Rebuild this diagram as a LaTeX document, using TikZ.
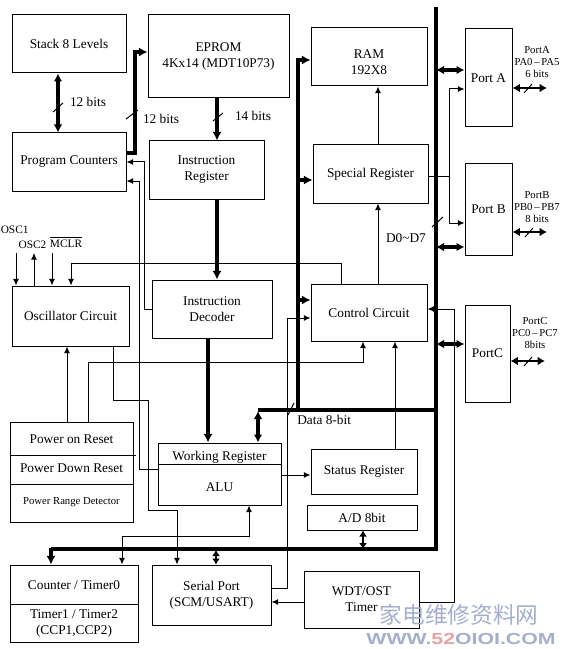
\documentclass[tikz,border=0pt]{standalone}
\usepackage{fontspec}
\setmainfont{Liberation Serif}
\newfontfamily\cjkfont{Noto Sans CJK SC}
\newfontfamily\wmfont{Liberation Sans}
\usetikzlibrary{arrows.meta,calc}
\definecolor{wmblue}{RGB}{165,175,205}
\definecolor{wmred}{RGB}{232,160,160}
\begin{document}
\begin{tikzpicture}[x=0.75pt,y=-0.75pt,
  bx/.style 2 args={draw,line width=0.75pt,minimum width=#1*0.75pt,minimum height=#2*0.75pt,inner sep=0pt,align=center,font=\fontsize{10}{12}\selectfont},
  ln/.style={line width=0.75pt},
  arr/.style={ln,-{Latex[length=5pt,width=4.5pt]}},
  darr/.style={ln,{Latex[length=5pt,width=4.5pt]}-{Latex[length=5pt,width=4.5pt]}},
  bus/.style={line width=3pt},
  tarr/.style={line width=3pt,-{Latex[length=6.5pt,width=7pt]}},
  tdarr/.style={line width=2.5pt,{Latex[length=6pt,width=6.5pt]}-{Latex[length=6pt,width=6.5pt]}},
  shortarr/.style={line width=2pt,{Latex[length=4.5pt,width=6pt]}-{Latex[length=4.5pt,width=6pt]}},
  sdarr/.style={line width=2pt,{Latex[length=5.5pt,width=6.5pt]}-{Latex[length=5.5pt,width=6.5pt]}},
  lbl/.style={font=\fontsize{10}{12}\selectfont,inner sep=0pt,align=center},
  slbl/.style={font=\fontsize{8}{9}\selectfont,inner sep=0pt,align=center},
  olbl/.style={font=\fontsize{8.5}{10}\selectfont,inner sep=0pt},
]
\useasboundingbox (0,0) rectangle (563,649);

% ---------- boxes ----------
\node[bx={114}{58}] (stack) at (69,44) {Stack 8 Levels};
\node[bx={141}{83}] (eprom) at (218.5,56.5) {EPROM\\4Kx14 (MDT10P73)};
\node[bx={114}{58}] (pc) at (69,162) {Program Counters};
\node[bx={115}{58}] (ir) at (206.5,170) {Instruction\\Register};
\node[bx={116}{58}] (ram) at (369,57) {};
\node[lbl] (ramtext) at (369,62) {RAM\\192X8};
\node[bx={115}{58}] (sr) at (370.5,174) {Special Register};
\node[bx={47}{98}] (porta) at (488.5,78) {Port A};
\node[bx={47}{91}] (portb) at (488.5,209.5) {Port B};
\node[bx={45}{97}] (portc) at (487.5,353.5) {PortC};
\node[bx={117}{60}] (osc) at (70.5,316) {Oscillator Circuit};
\node[bx={120}{58}] (id) at (212,309) {Instruction\\Decoder};
\node[bx={116}{57}] (cc) at (369,312.5) {Control Circuit};
\node[bx={123}{100}] (por) at (71.5,472) {};
\node[bx={123}{62}] (wr) at (219.5,474) {};
\node[bx={106}{45}] (status) at (364,471.5) {Status Register};
\node[bx={110}{25}] (ad) at (362,517.5) {A/D 8bit};
\node[bx={128}{77}] (ct) at (74,603.5) {};
\node[bx={119}{60}] (sp) at (211.5,595) {Serial Port\\(SCM/USART)};
\node[bx={115}{57}] (wdt) at (361.5,599.5) {WDT/OST\\Timer};

% multi-part box contents
\draw[ln] (por.west |- 0,455) -- (136,455);
\draw[ln] (por.west |- 0,484) -- (por.east |- 0,484);
\node[lbl] (por1) at (71.5,439) {Power on Reset};
\node[lbl] (por2) at (71.5,468.5) {Power Down Reset};
\node[slbl] (por3) at (71.5,502) {Power Range Detector};
\draw[ln] (wr.west |- 0,464) -- (wr.east |- 0,464);
\node[lbl] (wrt) at (219.5,457) {Working Register};
\node[lbl] (alut) at (219.5,487) {ALU};
\draw[ln] (ct.west |- 0,604) -- (ct.east |- 0,604);
\node[lbl] (ct1) at (74,585) {Counter / Timer0};
\node[lbl] (ct2) at (74,623) {Timer1 / Timer2\\(CCP1,CCP2)};

% ---------- buses ----------
\coordinate (bustop) at (436,7);
\draw[bus] (bustop) -- (436,549) -- (51,549);
\draw[tarr] (51,547.5) -- (ct.north -| 51,0);
\draw[bus] (436,410) -- (258,410);
\draw[tdarr] (258,411) -- (wr.north -| 258,0);
\draw[tarr] (298,410) -- (298,60) -- (ram.west |- 0,60);
\draw[tarr] (298,180) -- (sr.west |- 0,180);
\draw[tarr] (298,300) -- (cc.west |- 0,300);
\draw[ln] (288,415) -- (294,403);
\node[lbl,anchor=west] (datalbl) at (297,420) {Data 8-bit};
\draw[ln] (432,227) -- (443,217);
\node[lbl] (dlbl) at (406,238) {D0\textasciitilde D7};

\draw[tdarr] (436,70) -- (porta.west |- 0,70);
\draw[tdarr] (436,247) -- (portb.west |- 0,247);
\draw[tdarr] (436,344) -- (portc.west |- 0,344);
\draw[shortarr] (216,550) -- (sp.north -| 216,0);
\draw[shortarr] (363,549) -- (ad.south -| 363,0);

% ---------- external port lines ----------
\coordinate (pa) at (547,88);
\coordinate (pb) at (547,232);
\coordinate (pcx) at (545,361);
\draw[sdarr] (porta.east |- pa) -- (pa);
\draw[sdarr] (portb.east |- pb) -- (pb);
\draw[sdarr] (portc.east |- pcx) -- (pcx);
\draw[ln] (524,93) -- (532,84);
\draw[ln] (525,237) -- (533,228);
\draw[ln] (524,366) -- (532,357);
\node[slbl] (palbl) at (537,62) {PortA\\PA0\,–\,PA5\\6 bits};
\node[slbl] (pblbl) at (537,207) {PortB\\PB0\,–\,PB7\\8 bits};
\node[slbl] (pclbl) at (535,333) {PortC\\PC0\,–\,PC7\\8bits};

% ---------- top left ----------
\draw[tdarr] (stack.south -| 58,0) -- (pc.north -| 58,0);
\draw[ln] (53,112) -- (63,103);
\node[lbl] (b12a) at (88,102) {12 bits};
\draw[tarr] (pc.east |- 0,153) -- (135,153) -- (135,52) -- (eprom.west |- 0,52);
\draw[ln] (126,119) -- (138,110);
\node[lbl] (b12b) at (161,119) {12 bits};
\draw[tarr] (eprom.south -| 217,0) -- (ir.north -| 217,0);
\draw[ln] (213,121) -- (223,113);
\node[lbl] (b14) at (253,116) {14 bits};
\draw[tarr] (ir.south -| 217,0) -- (id.north -| 217,0);
\draw[tarr] (id.south -| 208,0) -- (wr.north -| 208,0);

% ID -> PC, ALU -> PC
\draw[arr] (id.west |- 0,309) -- (144,309) -- (144,162) -- (pc.east |- 0,162);
\draw[arr] (wr.west |- 0,469) -- (139,469) -- (139,181) -- (pc.east |- 0,181);

% RAM / special register / control
\draw[arr] (sr.north -| 378,0) -- (ram.south -| 378,0);
\draw[arr] (cc.north -| 378,0) -- (sr.south -| 378,0);
\draw[ln] (sr.east |- 0,176) -- (449,176);
\draw[arr] (449,176) |- (porta.west |- 0,89);
\draw[arr] (449,176) |- (portb.west |- 0,223);

% oscillator pins
\coordinate (osc1) at (16,253);
\coordinate (osc2) at (34,253);
\coordinate (mclr) at (52,253);
\draw[arr] (osc1) -- (osc.north -| osc1);
\draw[arr] (osc.north -| osc2) -- (osc2);
\draw[arr] (mclr) -- (osc.north -| mclr);
\node[olbl,anchor=west] (osc1t) at (0.5,230) {OSC1};
\node[olbl] (osc2t) at (32.5,245) {OSC2};
\node[olbl] (mclrt) at (66,242) {$\overline{\mbox{MCLR}}$};

% control -> oscillator
\draw[arr] (cc.north -| 341,0) -- (341,263) -- (71,263) -- (osc.north -| 71,0);
% power on reset -> oscillator, control
\draw[arr] (por.north -| 67,0) -- (osc.south -| 67,0);
\draw[arr] (por.north -| 88,0) -- (88,362) -- (363,362) -- (cc.south -| 363,0);
% oscillator -> serial port
\draw[arr] (osc.south -| 113,0) -- (113,400) -- (148,400) -- (148,510) -- (177,510) -- (sp.north -| 177,0);
% status -> control
\draw[arr] (status.north -| 395,0) -- (cc.south -| 395,0);
% ALU -> status
\draw[arr] (wr.east |- 0,475) -- (status.west |- 0,475);
% ALU <-> counter
\draw[darr] (ct.north -| 122,0) -- (122,536) -- (249,536) -- (wr.south -| 249,0);
% serial port -> control
\draw[arr] (sp.east |- 0,588) -- (287,588) -- (287,318) -- (cc.west |- 0,318);
% WDT -> serial, WDT -> control
\draw[arr] (wdt.west |- 0,602) -- (sp.east |- 0,602);
\draw[arr] (wdt.east |- 0,602) -- (454,602) -- (454,309) -- (cc.east |- 0,309);

% ---------- watermark ----------
\node[inner sep=0pt,text=wmblue,font=\cjkfont\fontsize{17}{17}\selectfont] (wm1) at (459,615) {家电维修资料网};
\node[inner sep=0pt,font=\wmfont\bfseries\fontsize{12}{12}\selectfont,xscale=1.33] (wm2) at (461,639) {\textcolor{wmblue}{WWW.}\textcolor{wmred}{52}\textcolor{wmblue}{OIOI.COM}};
\end{tikzpicture}
\end{document}
